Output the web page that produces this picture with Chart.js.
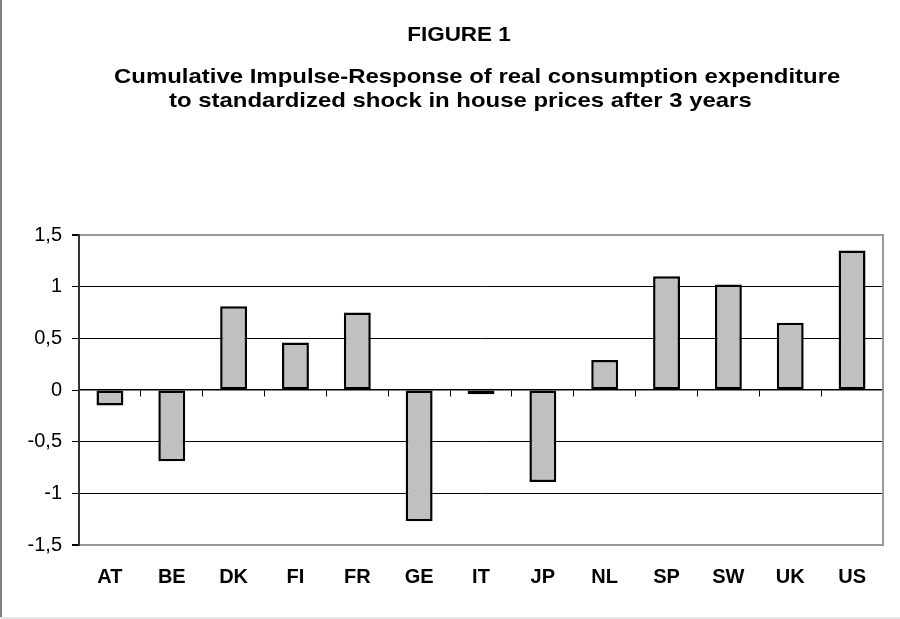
<!DOCTYPE html>
<html>
<head>
<meta charset="utf-8">
<script src="https://cdn.jsdelivr.net/npm/chart.js@4.4.1/dist/chart.umd.min.js"></script>
<style>
html,body{margin:0;padding:0;background:#fff;}
canvas{display:block;}
</style>
</head>
<body>
<canvas id="c" width="900" height="619"></canvas>
<script>
const categories = ['AT','BE','DK','FI','FR','GE','IT','JP','NL','SP','SW','UK','US'];
const values = [-0.15, -0.69, 0.81, 0.46, 0.75, -1.27, -0.04, -0.89, 0.29, 1.10, 1.02, 0.65, 1.35];
const yTickValues = [1.5, 1, 0.5, 0, -0.5, -1, -1.5];
const yTickLabels = ['1,5', '1', '0,5', '0', '-0,5', '-1', '-1,5'];
const titleText = 'FIGURE 1';
const subtitleLines = ['Cumulative Impulse-Response of real consumption expenditure',
                       'to standardized shock in house prices after 3 years'];

const FONT = '"Liberation Sans", Arial, sans-serif';

function stretchedText(ctx, text, x, y, size, sx, align) {
  ctx.save();
  ctx.font = 'bold ' + size + 'px ' + FONT;
  ctx.textBaseline = 'alphabetic';
  ctx.textAlign = 'left';
  const w = ctx.measureText(text).width * sx;
  let left = x;
  if (align === 'center') left = x - w / 2;
  ctx.translate(left, y);
  ctx.scale(sx, 1);
  ctx.fillText(text, 0, 0);
  ctx.restore();
}

const framePlugin = {
  id: 'frame',
  beforeDraw(chart) {
    const ctx = chart.ctx;
    ctx.save();
    ctx.fillStyle = '#ffffff';
    ctx.fillRect(0, 0, chart.width, chart.height);
    ctx.fillStyle = '#808080';
    ctx.fillRect(0, 0, 2, chart.height);
    ctx.fillStyle = '#e6e6e6';
    ctx.fillRect(0, chart.height - 2, chart.width, 2);
    ctx.restore();
  },
  afterDraw(chart) {
    const ctx = chart.ctx;
    ctx.fillStyle = '#000';
    stretchedText(ctx, titleText, 459, 41, 21, 1.07, 'center');
    stretchedText(ctx, subtitleLines[0], 114, 83, 21, 1.14, 'left');
    stretchedText(ctx, subtitleLines[1], 169, 107, 21, 1.14, 'left');
  }
};

new Chart(document.getElementById('c'), {
  type: 'bar',
  data: {
    labels: categories,
    datasets: [{
      data: values,
      backgroundColor: '#c0c0c0',
      borderColor: '#000000',
      borderWidth: 2.5,
      borderSkipped: false,
      categoryPercentage: 1.0,
      barPercentage: 0.435
    }]
  },
  options: {
    responsive: false,
    animation: false,
    devicePixelRatio: 1,
    layout: { padding: { top: 235, right: 17, left: 0, bottom: 0 } },
    plugins: { legend: { display: false }, title: { display: false }, tooltip: { enabled: false } },
    scales: {
      x: {
        position: 'bottom',
        grid: { display: false, drawTicks: false },
        border: { display: true, color: '#999999', width: 2 },
        ticks: { color: '#000', font: { family: FONT, size: 20, weight: 'bold' }, padding: 20, maxRotation: 0 },
        afterFit(s) { s.height = 74; }
      },
      x2: {
        type: 'category',
        position: { y: 0 },
        grid: { offset: true, drawOnChartArea: false, drawTicks: true, tickLength: 6, color: '#000', lineWidth: 1 },
        border: { display: true, color: '#000', width: 1.5 },
        ticks: { display: false }
      },
      y: {
        min: -1.5,
        max: 1.5,
        afterBuildTicks(s) { s.ticks = yTickValues.map(v => ({ value: v })); },
        ticks: {
          color: '#000',
          font: { family: FONT, size: 20 },
          padding: 10,
          callback: (v) => { const i = yTickValues.indexOf(v); return i >= 0 ? yTickLabels[i] : ''; }
        },
        grid: {
          color: (c) => (c.tick && (c.tick.value === 1.5 || c.tick.value === -1.5)) ? '#999999' : (c.tick && c.tick.value === 0 ? 'rgba(0,0,0,0)' : '#000000'),
          lineWidth: (c) => (c.tick && (c.tick.value === 1.5 || c.tick.value === -1.5)) ? 2 : 1,
          tickColor: '#000',
          tickLength: 7
        },
        border: { display: true, color: '#333333', width: 2 },
        afterFit(s) { s.width = 79; }
      },
      y2: {
        position: 'right',
        min: -1.5,
        max: 1.5,
        ticks: { display: false },
        grid: { display: false, drawTicks: false },
        border: { display: true, color: '#999999', width: 2 },
        afterFit(s) { s.width = 0; }
      }
    }
  },
  plugins: [framePlugin]
});
</script>
</body>
</html>
